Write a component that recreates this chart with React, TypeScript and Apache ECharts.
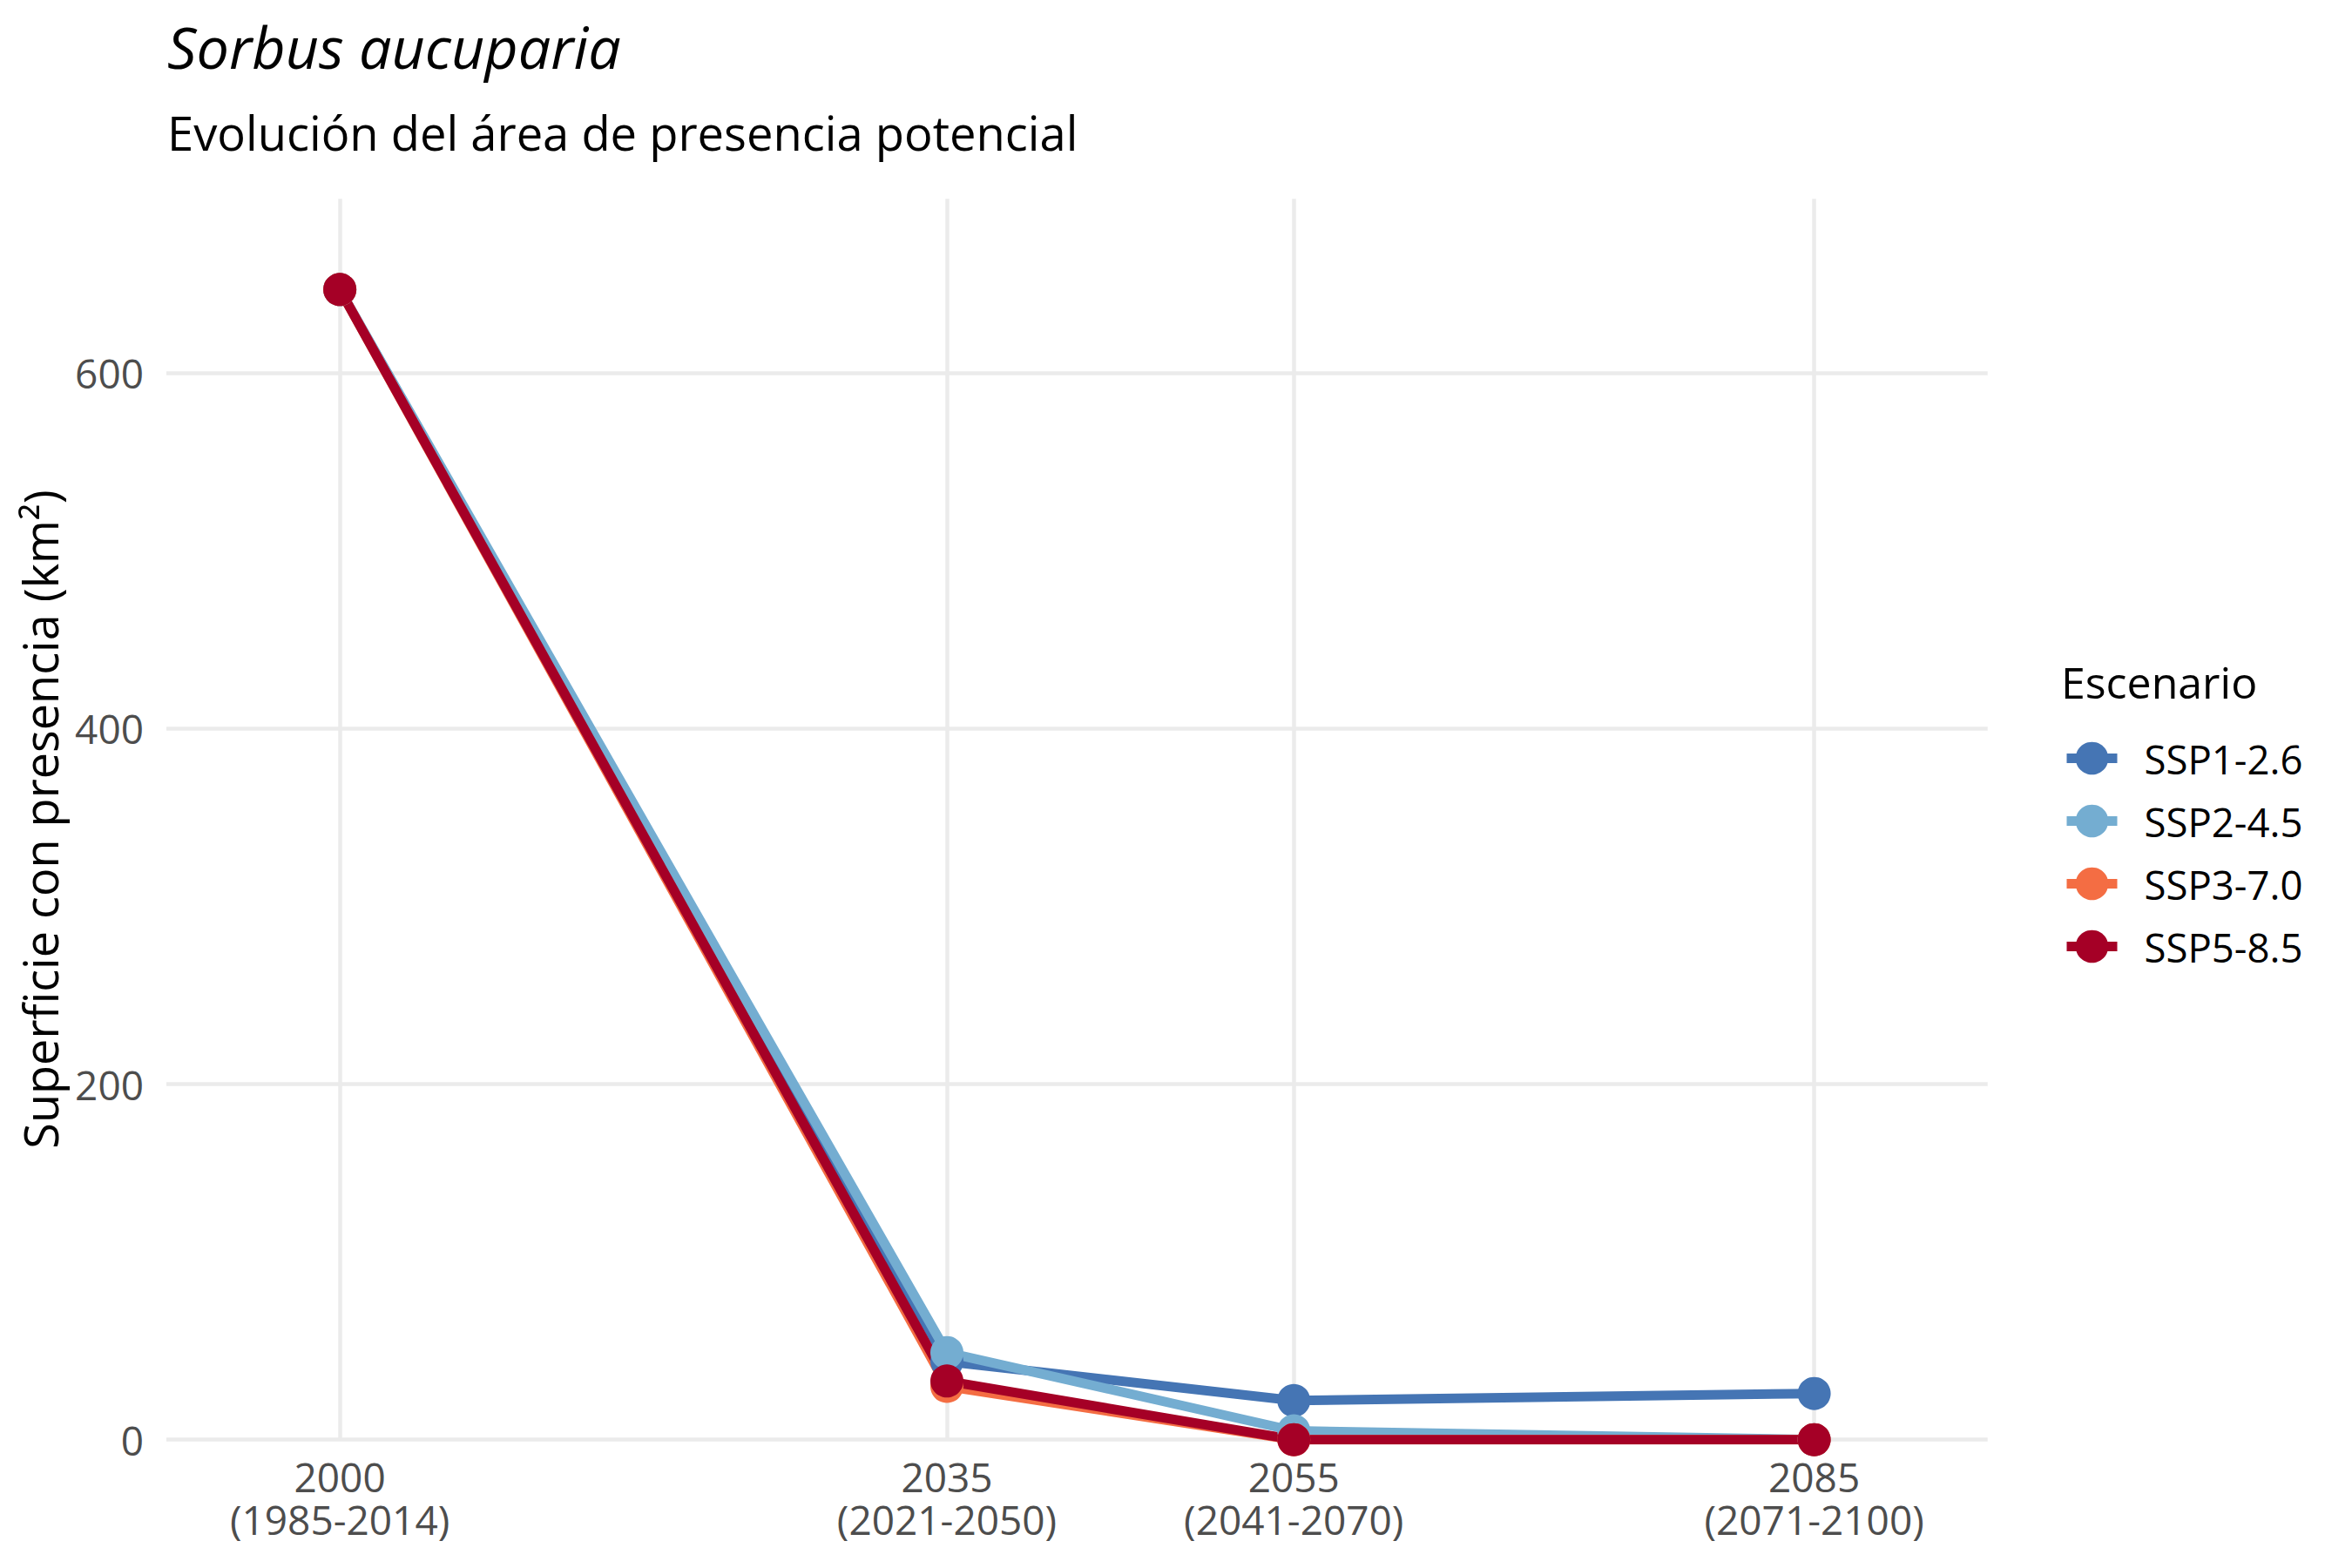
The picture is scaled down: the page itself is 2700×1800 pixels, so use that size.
import React, { useEffect, useRef } from "react";
import * as echarts from "echarts";

const years = [2000, 2035, 2055, 2085];
const periodLabels = ["(1985-2014)", "(2021-2050)", "(2041-2070)", "(2071-2100)"];
const yTicks = [0, 200, 400, 600];

const scenarioNames = ["SSP1-2.6", "SSP2-4.5", "SSP3-7.0", "SSP5-8.5"];
const ssp126 = [647, 44, 22, 26];
const ssp245 = [647, 49, 5, 0];
const ssp370 = [647, 30, 0, 0];
const ssp585 = [647, 33, 0, 0];
const scenarioValues = [ssp126, ssp245, ssp370, ssp585];
const scenarioColors = ["#4575b4", "#74add1", "#f46d43", "#a50026"];

const FONT = "Open Sans";

export default function App() {
  const ref = useRef<HTMLDivElement>(null);

  useEffect(() => {
    document.body.style.margin = "0";
    if (!ref.current) return;
    const chart = echarts.init(ref.current, undefined, { renderer: "svg" });

    const lineSeries = scenarioNames.map((name, i) => ({
      type: "line",
      name,
      data: years.map((y, j) => [y, scenarioValues[i][j]]),
      symbol: "circle",
      symbolSize: 38,
      showSymbol: false,
      lineStyle: { width: 11, color: scenarioColors[i], opacity: 1 },
      itemStyle: { color: scenarioColors[i], opacity: 1 },
      z: 2,
      silent: true,
    }));
    const pointSeries = scenarioNames.map((name, i) => ({
      type: "scatter",
      name,
      data: years.map((y, j) => [y, scenarioValues[i][j]]),
      symbol: "circle",
      symbolSize: 38,
      itemStyle: { color: scenarioColors[i], opacity: 1 },
      z: 3,
      silent: true,
    }));

    const labelMap: Record<string, string> = {};
    years.forEach((y, i) => {
      labelMap[String(y)] = `${y}\n${periodLabels[i]}`;
    });

    chart.setOption({
      animation: false,
      backgroundColor: "#ffffff",
      textStyle: { fontFamily: FONT },
      title: [
        {
          text: "Sorbus aucuparia",
          left: 192,
          top: 20,
          padding: 0,
          textStyle: {
            fontFamily: FONT,
            fontStyle: "italic",
            fontWeight: "normal",
            fontSize: 66.5,
            lineHeight: 66,
            color: "#000000",
          },
        },
        {
          text: "Evolución del área de presencia potencial",
          left: 192,
          top: 125,
          padding: 0,
          textStyle: {
            fontFamily: FONT,
            fontWeight: "normal",
            fontSize: 54.3,
            lineHeight: 54.5,
            color: "#000000",
          },
        },
        {
          text: "Escenario",
          left: 2366,
          top: 758,
          padding: 0,
          textStyle: {
            fontFamily: FONT,
            fontWeight: "normal",
            fontSize: 50,
            lineHeight: 50,
            color: "#000000",
          },
        },
      ],
      legend: {
        orient: "vertical",
        left: 2367,
        top: 847,
        padding: 0,
        itemWidth: 58,
        itemHeight: 47,
        itemGap: 25,
        data: scenarioNames,
        selectedMode: false,
        lineStyle: { width: 11 },
        itemStyle: { opacity: 1 },
        textStyle: {
          fontFamily: FONT,
          fontSize: 45.5,
          lineHeight: 47,
          color: "#000000",
          padding: [0, 0, 0, 26],
        },
      },
      grid: {
        left: 191,
        right: 418.3,
        top: 228.3,
        bottom: 147.3,
        containLabel: false,
      },
      xAxis: {
        type: "value",
        min: 1990,
        max: 2095,
        axisLine: { show: false },
        axisTick: { show: false, customValues: years },
        splitLine: { show: true, lineStyle: { color: "#ebebeb", width: 4.5 } },
        axisLabel: {
          customValues: years,
          formatter: (v: number) => labelMap[String(v)] ?? "",
          fontFamily: FONT,
          fontSize: 46,
          lineHeight: 49,
          color: "#4d4d4d",
          margin: 17.5,
        },
      },
      yAxis: {
        type: "value",
        min: 0,
        max: 698,
        name: "Superficie con presencia (km²)",
        nameLocation: "middle",
        nameGap: 118,
        nameTextStyle: {
          fontFamily: FONT,
          fontSize: 54,
          color: "#000000",
        },
        axisLine: { show: false },
        axisTick: { show: false, customValues: yTicks },
        splitLine: { show: true, lineStyle: { color: "#ebebeb", width: 4.5 } },
        axisLabel: {
          customValues: yTicks,
          fontFamily: FONT,
          fontSize: 46,
          color: "#4d4d4d",
          margin: 26,
        },
      },
      series: [...lineSeries, ...pointSeries],
    });

    return () => {
      chart.dispose();
    };
  }, []);

  return <div ref={ref} style={{ width: 2700, height: 1800 }} />;
}
